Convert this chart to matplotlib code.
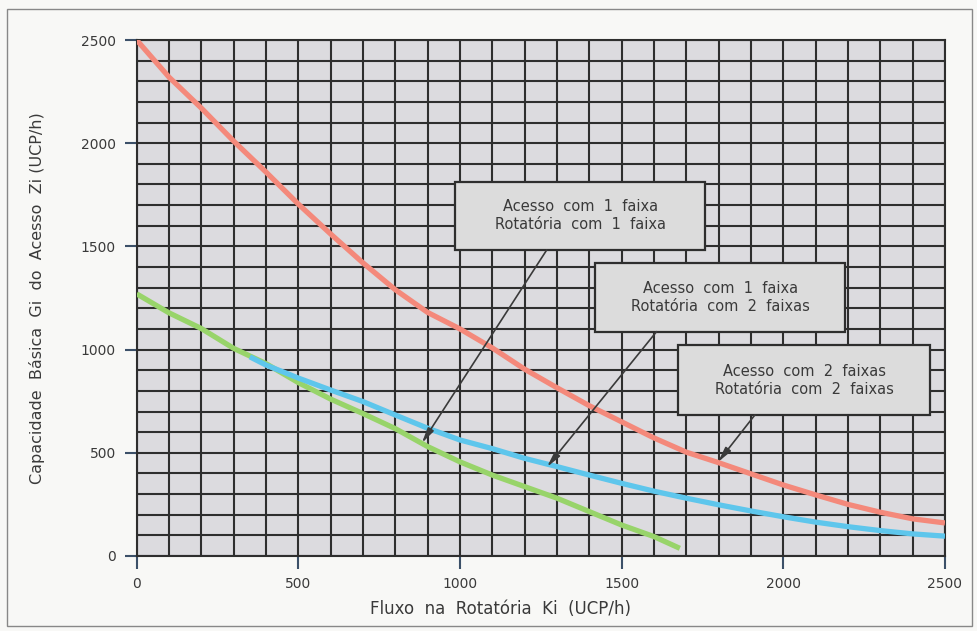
import matplotlib
matplotlib.use('Agg')
import matplotlib.pyplot as plt
from matplotlib.patches import Rectangle
import numpy as np

# curves (x = Ki, y = Gi, both in UCP/h)
red_x = [0, 100, 200, 300, 400, 500, 600, 700, 800, 900, 1000, 1100, 1200, 1300,
         1400, 1500, 1600, 1700, 1800, 1900, 2000, 2100, 2200, 2300, 2400, 2500]
red_y = [2500, 2320, 2170, 2010, 1860, 1705, 1560, 1420, 1290, 1180, 1100, 1008, 905, 815,
         728, 650, 572, 503, 452, 398, 344, 296, 250, 212, 180, 160]

blue_x = [350, 400, 500, 600, 700, 800, 900, 1000, 1100, 1200, 1300, 1400, 1500,
          1600, 1700, 1800, 1900, 2000, 2100, 2200, 2300, 2400, 2500]
blue_y = [965, 925, 862, 804, 748, 683, 619, 562, 520, 473, 433, 392, 352,
          314, 280, 248, 218, 190, 164, 142, 123, 107, 96]

green_x = [0, 100, 200, 300, 400, 500, 600, 700, 800, 900, 1000, 1100, 1200,
           1300, 1400, 1500, 1600, 1680]
green_y = [1270, 1178, 1102, 1006, 932, 840, 760, 690, 617, 530, 456, 392, 336,
           280, 215, 150, 94, 37]

x_ticks = [0, 500, 1000, 1500, 2000, 2500]
x_tick_labels = ['0', '500', '1000', '1500', '2000', '2500']
y_ticks = [0, 500, 1000, 1500, 2000, 2500]
y_tick_labels = ['0', '500', '1000', '1500', '2000', '2500']

labels = ['Acesso  com  1  faixa\nRotatória  com  1  faixa',
          'Acesso  com  1  faixa\nRotatória  com  2  faixas',
          'Acesso  com  2  faixas\nRotatória  com  2  faixas']

txt_col = '#3a3a3a'
grid_col = '#2e2e2e'

fig = plt.figure(figsize=(9.77, 6.31), dpi=100)
fig.patch.set_facecolor('#f8f8f6')
ax = fig.add_axes([0.1399, 0.1189, 0.8273, 0.8177])
ax.set_facecolor('#dcdbdf')

ax.set_xlim(0, 2500)
ax.set_ylim(0, 2500)
ax.set_xticks(np.arange(0, 2501, 100), minor=True)
ax.set_yticks(np.arange(0, 2501, 100), minor=True)
ax.set_xticks(x_ticks)
ax.set_xticklabels(x_tick_labels)
ax.set_yticks(y_ticks)
ax.set_yticklabels(y_tick_labels)
ax.grid(which='both', color=grid_col, linewidth=1.5, zorder=1)
ax.set_axisbelow(True)
ax.tick_params(which='minor', length=0)
ax.tick_params(which='major', length=9, width=1.5, color='#3c5068',
               labelsize=10, labelcolor=txt_col, pad=6)
for s in ax.spines.values():
    s.set_color(grid_col)
    s.set_linewidth(1.5)

ax.plot(green_x, green_y, color='#98d46a', linewidth=3.8, solid_capstyle='butt', zorder=3)
ax.plot(blue_x, blue_y, color='#5ec6ec', linewidth=3.8, solid_capstyle='butt', zorder=4)
ax.plot(red_x, red_y, color='#f4897b', linewidth=3.8, solid_capstyle='butt', zorder=5)

# annotation boxes: (x0, y0, x1, y1) in data coords, arrow start and tip
boxes = [(985, 1482, 1758, 1813), (1418, 1087, 2191, 1418), (1675, 683, 2454, 1022)]
arrows = [((1268, 1482), (882, 547)), ((1608, 1087), (1269, 431)), ((1912, 683), (1798, 455))]
for (x0, y0, x1, y1), (start, tip), lab in zip(boxes, arrows, labels):
    ax.add_patch(Rectangle((x0, y0), x1 - x0, y1 - y0, facecolor='#dcdcdc',
                           edgecolor=grid_col, linewidth=1.6, zorder=6))
    ax.text((x0 + x1) / 2, (y0 + y1) / 2, lab, ha='center', va='center',
            fontsize=10.5, color=txt_col, linespacing=1.25, zorder=7)
    ax.annotate('', xy=tip, xytext=start, zorder=6,
                arrowprops=dict(arrowstyle='-|>,head_length=0.9,head_width=0.2',
                                color='#3a3a3a', linewidth=1.2, shrinkA=0, shrinkB=0))

ax.set_xlabel('Fluxo  na  Rotatória  Ki  (UCP/h)', fontsize=12, color=txt_col)
ax.xaxis.set_label_coords(0.45, -0.085)
ax.set_ylabel('Capacidade  Básica  Gi  do  Acesso  Zi (UCP/h)', fontsize=11.5,
              color=txt_col)
ax.yaxis.set_label_coords(-0.113, 0.5)

# scan frame
fig.add_artist(Rectangle((0.007, 0.008), 0.988, 0.978, transform=fig.transFigure,
                         fill=False, edgecolor='#888888', linewidth=1.0))

fig.savefig('out.png', dpi=100, facecolor=fig.get_facecolor())
